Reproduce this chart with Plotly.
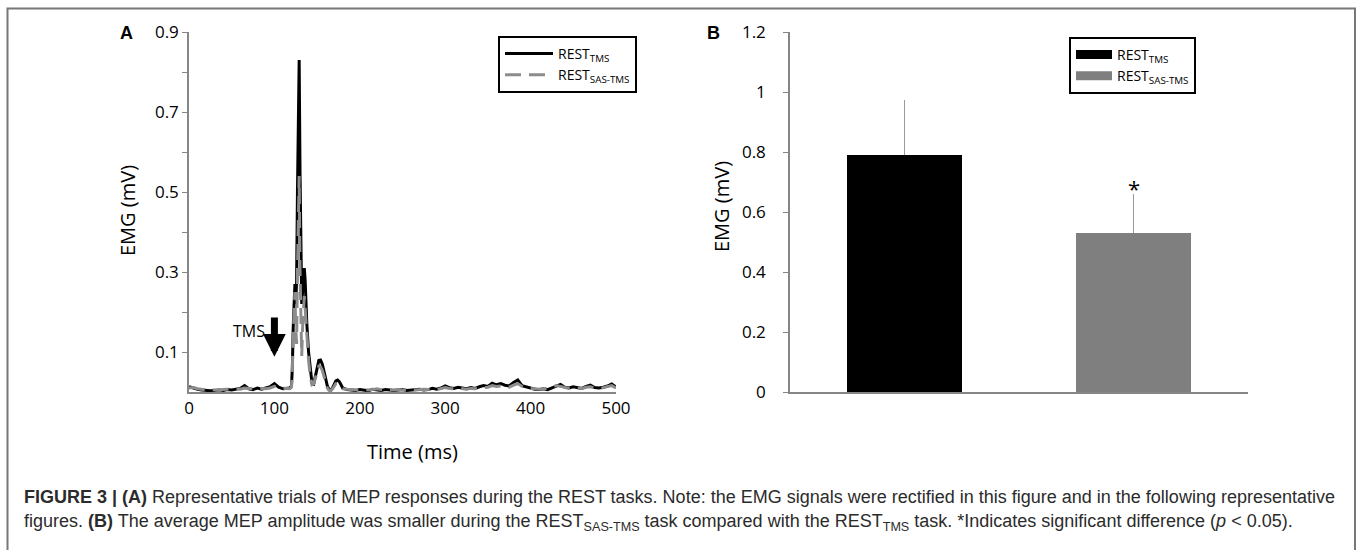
import plotly.graph_objects as go

W, H = 1357, 550

# ---------------- Panel A data (representative rectified EMG traces) ----------------
time_ms = [
    0, 5, 10, 15, 20, 25, 30, 35, 40, 45, 50, 55, 60, 65, 70, 75, 80, 85, 90, 95, 100, 105, 110, 115,
    118, 120, 121, 122, 123, 124, 125, 126, 127, 128, 129, 130, 131, 132, 133, 134, 135, 136, 137, 138,
    140, 142, 144, 146, 148, 150, 152, 154, 156, 158, 160, 162, 164, 166, 168, 170, 172, 174, 176, 178, 180,
    185, 190, 195, 200, 205, 210, 215, 220, 225, 230, 235, 240, 245, 250, 255, 260, 265, 270, 275, 280,
    285, 290, 295, 300, 305, 310, 315, 320, 325, 330, 335, 340, 345, 350, 355, 360, 365, 370, 375, 380,
    385, 390, 395, 400, 405, 410, 415, 420, 425, 430, 435, 440, 445, 450, 455, 460, 465, 470, 475, 480,
    485, 490, 495, 500,
]

emg_rest_tms = [
    0.013, 0.009, 0.007, 0.005, 0.004, 0.003, 0.004, 0.005, 0.004, 0.006, 0.005, 0.007, 0.009, 0.016,
    0.008, 0.006, 0.010, 0.007, 0.011, 0.013, 0.021, 0.012, 0.008, 0.010,
    0.010, 0.015, 0.060, 0.160, 0.240, 0.270, 0.220, 0.280, 0.500, 0.750, 0.830, 0.550, 0.330, 0.220,
    0.250, 0.300, 0.310, 0.280, 0.220, 0.170,
    0.100, 0.050, 0.022, 0.020, 0.040, 0.065, 0.079, 0.080, 0.070, 0.052, 0.032, 0.015, 0.006, 0.004,
    0.010, 0.020, 0.028, 0.030, 0.026, 0.018, 0.010,
    0.006, 0.005, 0.004, 0.006, 0.004, 0.003, 0.007, 0.005, 0.004, 0.006, 0.005, 0.004, 0.005, 0.006,
    0.004, 0.005, 0.006, 0.007, 0.005, 0.006,
    0.009, 0.007, 0.010, 0.015, 0.011, 0.009, 0.012, 0.010, 0.008, 0.011, 0.009, 0.013, 0.016, 0.014,
    0.022, 0.018, 0.021, 0.017, 0.015, 0.024,
    0.030, 0.016, 0.013, 0.009, 0.007, 0.006, 0.008, 0.006, 0.010, 0.014, 0.019, 0.012, 0.010, 0.013,
    0.011, 0.009, 0.014, 0.017, 0.011, 0.010,
    0.012, 0.015, 0.020, 0.012,
]

emg_rest_sas_tms = [
    0.010, 0.011, 0.008, 0.006, 0.005, 0.006, 0.005, 0.004, 0.006, 0.007, 0.006, 0.008, 0.007, 0.010,
    0.009, 0.008, 0.007, 0.009, 0.008, 0.010, 0.014, 0.010, 0.009, 0.008,
    0.008, 0.012, 0.050, 0.140, 0.220, 0.250, 0.160, 0.120, 0.300, 0.480, 0.540, 0.300, 0.120, 0.090,
    0.160, 0.230, 0.240, 0.210, 0.170, 0.130,
    0.080, 0.040, 0.018, 0.020, 0.035, 0.055, 0.064, 0.063, 0.055, 0.040, 0.024, 0.010, 0.004, 0.003,
    0.008, 0.016, 0.021, 0.022, 0.018, 0.012, 0.008,
    0.007, 0.006, 0.006, 0.005, 0.006, 0.005, 0.006, 0.008, 0.006, 0.005, 0.006, 0.005, 0.006, 0.005,
    0.006, 0.007, 0.005, 0.006, 0.007, 0.006,
    0.008, 0.006, 0.009, 0.011, 0.009, 0.008, 0.010, 0.009, 0.007, 0.009, 0.008, 0.010, 0.011, 0.012,
    0.016, 0.014, 0.015, 0.013, 0.012, 0.017,
    0.021, 0.014, 0.011, 0.009, 0.008, 0.007, 0.008, 0.009, 0.012, 0.016, 0.014, 0.011, 0.009, 0.011,
    0.010, 0.009, 0.012, 0.013, 0.010, 0.009,
    0.011, 0.013, 0.016, 0.010,
]

a_xticks = [0, 100, 200, 300, 400, 500]
a_yticks = [0.1, 0.2, 0.3, 0.4, 0.5, 0.6, 0.7, 0.8, 0.9]
a_yticklabels = ["0.1", "", "0.3", "", "0.5", "", "0.7", "", "0.9"]
tms_onset_ms = 100

# ---------------- Panel B data (average MEP amplitude) ----------------
b_conditions = ["REST<sub>TMS</sub>", "REST<sub>SAS-TMS</sub>"]
b_means = [0.79, 0.53]
b_sd = [0.185, 0.13]
b_colors = ["#000000", "#7f7f7f"]
b_yticks = [0, 0.2, 0.4, 0.6, 0.8, 1.0, 1.2]
b_yticklabels = ["0", "0.2", "0.4", "0.6", "0.8", "1", "1.2"]
b_sig_y = 0.68

assert len(time_ms) == len(emg_rest_tms) == len(emg_rest_sas_tms)

def px_x(v):
    return v / W

def px_y(v):
    return 1 - v / H

FONT = "Open Sans"
AXC = "#868686"

fig = go.Figure()

# Panel A traces
fig.add_trace(go.Scatter(
    x=time_ms, y=emg_rest_tms, mode="lines", name="REST<sub>TMS</sub>",
    line=dict(color="black", width=3), xaxis="x", yaxis="y", legend="legend",
))
fig.add_trace(go.Scatter(
    x=time_ms, y=emg_rest_sas_tms, mode="lines", name="REST<sub>SAS-TMS</sub>",
    line=dict(color="#8c8c8c", width=3, dash="16px,8px"), xaxis="x", yaxis="y", legend="legend",
))

# Panel B bars
fig.add_trace(go.Bar(
    x=[0, 1], y=b_means, width=0.5,
    marker=dict(color=b_colors, line=dict(width=0)),
    error_y=dict(type="data", symmetric=False, array=b_sd, arrayminus=[0, 0],
                 color="#9a9a9a", thickness=1.2, width=0),
    xaxis="x2", yaxis="y2", showlegend=False,
))
# legend entries for panel B
for name, col in zip(b_conditions, b_colors):
    fig.add_trace(go.Scatter(
        x=[None], y=[None], mode="lines", name=name,
        line=dict(color=col, width=9), xaxis="x2", yaxis="y2", legend="legend2",
    ))

a_x0, a_x1 = px_x(189), px_x(616)
b_x0, b_x1 = px_x(790), px_x(1248)
y0, y1 = px_y(392), px_y(32)

fig.update_layout(
    width=W, height=H, autosize=False,
    margin=dict(l=0, r=0, t=0, b=0, pad=0, autoexpand=False),
    paper_bgcolor="white", plot_bgcolor="white",
    font=dict(family=FONT, color="black"),
    xaxis=dict(domain=[a_x0, a_x1], range=[0, 500], tickvals=a_xticks,
               showgrid=False, zeroline=False, showline=True, linecolor=AXC, linewidth=1.5,
               ticks="", tickfont=dict(size=17, family=FONT, color="black"), anchor="y",
               automargin=False),
    yaxis=dict(domain=[y0, y1], range=[0, 0.9], tickvals=a_yticks, ticktext=a_yticklabels,
               showgrid=False, zeroline=False, showline=True, linecolor=AXC, linewidth=1.5,
               ticks="outside", ticklen=5, tickcolor=AXC, tickwidth=1,
               tickfont=dict(size=17, family=FONT, color="black"), anchor="x",
               automargin=False),
    xaxis2=dict(domain=[b_x0, b_x1], range=[-0.5, 1.5], showticklabels=False,
                showgrid=False, zeroline=False, showline=True, linecolor=AXC, linewidth=1.5,
                ticks="", anchor="y2", automargin=False),
    yaxis2=dict(domain=[y0, y1], range=[0, 1.2], tickvals=b_yticks, ticktext=b_yticklabels,
                showgrid=False, zeroline=False, showline=True, linecolor=AXC, linewidth=1.5,
                ticks="outside", ticklen=5, tickcolor=AXC, tickwidth=1,
                tickfont=dict(size=17, family=FONT, color="black"), anchor="x2",
                ticklabelstandoff=14, automargin=False),
    legend=dict(x=px_x(498), y=px_y(36), xanchor="left", yanchor="top",
                bordercolor="black", borderwidth=2, bgcolor="white",
                font=dict(family=FONT, size=14, color="black"), tracegroupgap=0,
                itemwidth=48),
    legend2=dict(x=px_x(1069), y=px_y(37), xanchor="left", yanchor="top",
                 bordercolor="black", borderwidth=2, bgcolor="white",
                 font=dict(family=FONT, size=14, color="black"), tracegroupgap=0,
                 itemwidth=36),
    bargap=0,
)

def paper_text(text, x, y, size, family=FONT, angle=0, xanchor="center", color="black"):
    return dict(text=text, x=px_x(x), y=px_y(y), xref="paper", yref="paper",
                xanchor=xanchor, yanchor="middle", textangle=angle, showarrow=False,
                font=dict(family=family, size=size, color=color))

ann = []
# panel letters
ann.append(paper_text("<b>A</b>", 126, 33, 18, family="Liberation Sans"))
ann.append(paper_text("<b>B</b>", 713, 33, 18, family="Liberation Sans"))
# axis titles
ann.append(paper_text("EMG (mV)", 128, 211, 20, angle=-90))
ann.append(paper_text("EMG (mV)", 721, 207, 20, angle=-90))
ann.append(paper_text("Time (ms)", 412, 451, 20))
# TMS marker
ann.append(dict(text="TMS", x=tms_onset_ms - 9, y=0.152, xref="x", yref="y", showarrow=False,
                xanchor="right", yanchor="middle",
                font=dict(family=FONT, size=16, color="black")))
ann.append(dict(text="", x=tms_onset_ms, y=0.088, ax=tms_onset_ms, ay=0.19, xref="x", yref="y",
                axref="x", ayref="y", showarrow=True, arrowhead=2, arrowsize=0.65,
                arrowwidth=7, arrowcolor="black"))
# significance asterisk
ann.append(dict(text="*", x=1, y=b_sig_y, xref="x2", yref="y2", showarrow=False,
                xanchor="center", yanchor="middle",
                font=dict(family=FONT, size=22, color="black")))

# caption
cap1 = ("<b>FIGURE 3 | (A)</b> Representative trials of MEP responses during the REST tasks. "
        "Note: the EMG signals were rectified in this figure and in the following representative")
cap2 = ("figures. <b>(B)</b> The average MEP amplitude was smaller during the REST<sub>SAS-TMS</sub> "
        "task compared with the REST<sub>TMS</sub> task. *Indicates significant difference "
        "(<i>p</i> &lt; 0.05).")
ann.append(paper_text(cap1, 22, 497, 18, family="Liberation Sans", xanchor="left", color="#2b2b2b"))
ann.append(paper_text(cap2, 22, 522, 18, family="Liberation Sans", xanchor="left", color="#2b2b2b"))

fig.update_layout(annotations=ann)

# outer frame of the figure
fig.add_shape(type="rect", xref="paper", yref="paper",
              x0=px_x(7.5), x1=px_x(1355), y0=-0.2, y1=px_y(8.5),
              line=dict(color="#777777", width=2), fillcolor="rgba(0,0,0,0)", layer="below")

fig.write_html("out.html",
               config={"displayModeBar": False},
               post_script="document.body.style.margin='0';document.body.style.overflow='hidden';")
